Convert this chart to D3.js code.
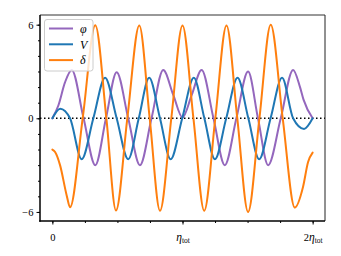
<!DOCTYPE html>
<html>
<head>
<meta charset="utf-8">
<script src="https://cdn.jsdelivr.net/npm/d3@7"></script>
<style>
  body { margin: 0; background: #fff; }
  text { font-family: "Liberation Serif", serif; }
</style>
</head>
<body>
<svg id="chart" width="341" height="256"></svg>
<script>
// curves: extrema and zero crossings (x in units of eta_tot)
var phiX = [0, 0.046, 0.097, 0.149, 0.24, 0.33, 0.412, 0.494, 0.583, 0.673, 0.762, 0.852, 0.929, 1.0, 1.071, 1.147, 1.238, 1.325, 1.414, 1.504, 1.58, 1.658, 1.755, 1.85, 1.903, 1.93, 2.0];
var phiY = [0, 0.82, 2.3, 3.1, 0, -3.0, 0, 2.95, 0, -3.0, 0, 3.1, 1.5, 0.05, 1.5, 3.1, 0, -3.0, 0, 3.0, 0, -3.0, 0, 3.1, 2.0, 1.2, 0];

var vX = [0, 0.06, 0.136, 0.225, 0.315, 0.405, 0.494, 0.583, 0.664, 0.744, 0.827, 0.909, 0.998, 1.087, 1.168, 1.249, 1.336, 1.423, 1.506, 1.589, 1.677, 1.765, 1.85, 1.934, 2.0];
var vY = [0, 0.62, 0, -2.62, 0, 2.6, 0, -2.62, 0, 2.6, 0, -2.62, 0, 2.6, 0, -2.62, 0, 2.6, 0, -2.62, 0, 2.6, 0, -0.68, 0];

var dX = [0, 0.021, 0.059, 0.11, 0.136, 0.233, 0.33, 0.415, 0.489, 0.576, 0.668, 0.748, 0.827, 0.914, 1.0, 1.084, 1.167, 1.252, 1.338, 1.421, 1.504, 1.591, 1.678, 1.77, 1.863, 1.926, 1.965, 2.0];
var dY = [-2.0, -2.16, -3.0, -4.94, -5.7, 0, 5.97, 0, -5.9, 0, 5.95, 0, -5.92, 0, 5.95, 0, -5.92, 0, 5.95, 0, -6.0, 0, 6.0, 0, -5.72, -4.4, -2.8, -2.2];

var seriesNames = ['φ', 'V', 'δ'];
var seriesColors = ['#9467bd', '#1f77b4', '#ff7f0e'];

var xTicks = [0, 1, 2];
var yTicks = [-6, 0, 6];

var margin = {left: 40, top: 15, right: 16, bottom: 35};
var W = 341, H = 256;
var svg = d3.select('#chart');

var x = d3.scaleLinear().domain([-0.095, 2.095]).range([margin.left, W - margin.right]);
var y = d3.scaleLinear().domain([-6.58, 6.62]).range([H - margin.bottom, margin.top]);

var series = [
  {name: seriesNames[0], color: seriesColors[0], pts: d3.zip(phiX, phiY)},
  {name: seriesNames[1], color: seriesColors[1], pts: d3.zip(vX, vY)},
  {name: seriesNames[2], color: seriesColors[2], pts: d3.zip(dX, dY)}
];

svg.append('clipPath').attr('id', 'clip').append('rect')
  .attr('x', margin.left).attr('y', margin.top)
  .attr('width', W - margin.left - margin.right)
  .attr('height', H - margin.top - margin.bottom);

var line = d3.line()
  .x(function(d) { return x(d[0]); })
  .y(function(d) { return y(d[1]); })
  .curve(d3.curveMonotoneX);

var plot = svg.append('g').attr('clip-path', 'url(#clip)');

// dotted zero line
plot.append('line')
  .attr('x1', margin.left).attr('x2', W - margin.right)
  .attr('y1', y(0)).attr('y2', y(0))
  .attr('stroke', '#000').attr('stroke-width', 1.5)
  .attr('stroke-dasharray', '1.5,2.5');

plot.selectAll('path.series')
  .data(series)
  .enter().append('path')
  .attr('class', 'series')
  .attr('d', function(d) { return line(d.pts); })
  .attr('fill', 'none')
  .attr('stroke', function(d) { return d.color; })
  .attr('stroke-width', 2)
  .attr('stroke-linejoin', 'round')
  .attr('stroke-linecap', 'round');

// axes
var xAxis = d3.axisBottom(x).tickValues(xTicks).tickSize(3.5).tickPadding(4)
  .tickFormat(function() { return ''; });
var xMinor = d3.axisBottom(x).tickValues(d3.range(0, 2.01, 0.25)).tickSize(2).tickFormat('');
var yAxis = d3.axisLeft(y).tickValues(yTicks).tickSize(3.5).tickPadding(3)
  .tickFormat(function(d) { return d < 0 ? '\u2212' + Math.abs(d) : d; });
var yMinor = d3.axisLeft(y).tickValues(d3.range(-6, 6.01, 1)).tickSize(2).tickFormat('');

function styleAxis(g) {
  g.select('.domain').remove();
  g.selectAll('line').attr('stroke', '#000').attr('stroke-width', 1);
  g.selectAll('text').attr('font-size', 10.5).attr('fill', '#000')
    .style('font-family', '"Liberation Serif", serif');
}

svg.append('g').attr('transform', 'translate(0,' + (H - margin.bottom) + ')').call(xMinor).call(styleAxis);
var gx = svg.append('g').attr('transform', 'translate(0,' + (H - margin.bottom) + ')').call(xAxis).call(styleAxis);
svg.append('g').attr('transform', 'translate(' + margin.left + ',0)').call(yMinor).call(styleAxis);
svg.append('g').attr('transform', 'translate(' + margin.left + ',0)').call(yAxis).call(styleAxis);

// x tick labels with math text
gx.selectAll('.tick text').each(function(d) {
  var t = d3.select(this).text(null).attr('dy', '1.15em');
  if (d === 0) { t.text('0'); return; }
  if (d === 2) t.append('tspan').text('2');
  t.append('tspan').attr('font-style', 'italic').attr('font-size', 11.5).text('η');
  t.append('tspan').attr('font-size', 7.5).attr('dy', 2).text('tot');
});

// frame
var x0 = margin.left, x1 = W - margin.right, y0 = margin.top, y1 = H - margin.bottom;
svg.append('line').attr('x1', x0).attr('x2', x1).attr('y1', y0).attr('y2', y0)
  .attr('stroke', '#333').attr('stroke-width', 1);
svg.append('line').attr('x1', x1).attr('x2', x1).attr('y1', y0).attr('y2', y1)
  .attr('stroke', '#222').attr('stroke-width', 1);
svg.append('line').attr('x1', x0).attr('x2', x0).attr('y1', y0).attr('y2', y1 + 0.75)
  .attr('stroke', '#000').attr('stroke-width', 1.5);
svg.append('line').attr('x1', x0 - 0.75).attr('x2', x1).attr('y1', y1).attr('y2', y1)
  .attr('stroke', '#000').attr('stroke-width', 1.5);

// legend
var lg = svg.append('g').attr('transform', 'translate(44.5,19.5)');
lg.append('rect').attr('width', 48.5).attr('height', 51.5).attr('rx', 2.5)
  .attr('fill', '#fff').attr('fill-opacity', 0.8)
  .attr('stroke', '#ccc').attr('stroke-width', 1);
var item = lg.selectAll('g.item').data(series).enter().append('g')
  .attr('transform', function(d, i) { return 'translate(0,' + (9 + i * 15.8) + ')'; });
item.append('line').attr('x1', 4.5).attr('x2', 28.5)
  .attr('stroke', function(d) { return d.color; }).attr('stroke-width', 2);
item.append('text').attr('x', 35.5).attr('dy', '0.35em')
  .attr('font-size', 12).attr('font-style', 'italic')
  .text(function(d) { return d.name; });
</script>
</body>
</html>
